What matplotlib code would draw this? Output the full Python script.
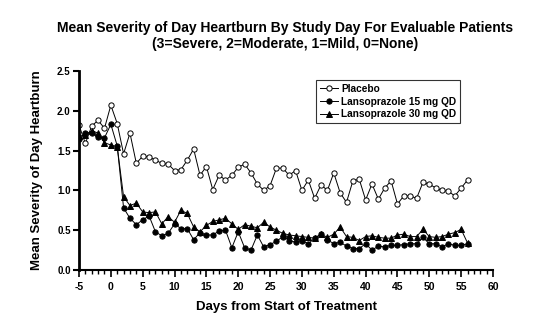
#!/usr/bin/env python3
"""
Mean severity of day heartburn by study day, three treatment arms.
Writes out.png (541x332).
"""

import matplotlib
matplotlib.use("Agg")
import matplotlib.pyplot as plt
from matplotlib.ticker import MultipleLocator, FormatStrFormatter

plt.rcParams["font.family"] = ["Liberation Sans", "DejaVu Sans"]
plt.rcParams["font.weight"] = "bold"
plt.rcParams["axes.unicode_minus"] = False

days = list(range(-5, 57))

placebo = [
    1.82, 1.59, 1.81, 1.88, 1.78, 2.07, 1.84, 1.46, 1.72, 1.34,
    1.43, 1.42, 1.38, 1.34, 1.33, 1.25, 1.26, 1.38, 1.52, 1.19,
    1.30, 1.01, 1.19, 1.13, 1.19, 1.29, 1.33, 1.22, 1.08, 1.00,
    1.06, 1.28, 1.28, 1.19, 1.25, 1.00, 1.13, 0.90, 1.07, 1.00,
    1.22, 0.97, 0.85, 1.12, 1.14, 0.88, 1.08, 0.89, 1.03, 1.12,
    0.83, 0.93, 0.93, 0.90, 1.10, 1.08, 1.03, 1.00, 0.99, 0.93,
    1.03, 1.13,
]

lanso_15 = [
    1.64, 1.72, 1.72, 1.67, 1.66, 1.83, 1.56, 0.78, 0.65, 0.57,
    0.63, 0.68, 0.48, 0.43, 0.46, 0.58, 0.52, 0.52, 0.38, 0.47,
    0.44, 0.44, 0.49, 0.50, 0.28, 0.48, 0.28, 0.25, 0.44, 0.29,
    0.32, 0.36, 0.42, 0.37, 0.35, 0.37, 0.33, 0.40, 0.45, 0.38,
    0.33, 0.35, 0.30, 0.27, 0.27, 0.33, 0.25, 0.30, 0.29, 0.31,
    0.31, 0.32, 0.33, 0.33, 0.41, 0.33, 0.33, 0.29, 0.33, 0.31,
    0.31, 0.33,
]

lanso_30 = [
    1.68, 1.70, 1.75, 1.72, 1.60, 1.57, 1.55, 0.92, 0.81, 0.84,
    0.73, 0.72, 0.73, 0.58, 0.67, 0.60, 0.75, 0.71, 0.54, 0.48,
    0.56, 0.61, 0.63, 0.65, 0.58, 0.51, 0.57, 0.55, 0.53, 0.60,
    0.54, 0.50, 0.46, 0.44, 0.43, 0.42, 0.41, 0.40, 0.45, 0.41,
    0.45, 0.54, 0.42, 0.41, 0.37, 0.42, 0.43, 0.41, 0.40, 0.40,
    0.44, 0.45, 0.42, 0.42, 0.51, 0.42, 0.41, 0.42, 0.45, 0.47,
    0.51, 0.34,
]

labels = ["Placebo", "Lansoprazole 15 mg QD", "Lansoprazole 30 mg QD"]

W, H = 541, 332
fig = plt.figure(figsize=(W / 100, H / 100), dpi=100)
ax = fig.add_axes([79 / W, 1 - 270 / H, 414 / W, 199 / H])

line_kw = dict(color="black", linewidth=0.7, markersize=3.8, markeredgewidth=0.7)
ax.plot(days, placebo, marker="o", markerfacecolor="white",
        markeredgecolor="black", label=labels[0], **line_kw)
ax.plot(days, lanso_15, marker="o", markerfacecolor="black",
        markeredgecolor="black", label=labels[1], **line_kw)
ax.plot(days, lanso_30, marker="^", markerfacecolor="black",
        markeredgecolor="black", label=labels[2], **line_kw)

ax.set_xlim(-5, 60)
ax.set_ylim(0, 2.5)
ax.xaxis.set_major_locator(MultipleLocator(5))
ax.xaxis.set_minor_locator(MultipleLocator(1))
ax.yaxis.set_major_locator(MultipleLocator(0.5))
ax.yaxis.set_major_formatter(FormatStrFormatter("%.1f"))

ax.spines["top"].set_visible(False)
ax.spines["right"].set_visible(False)
ax.spines["left"].set_linewidth(2.0)
ax.spines["bottom"].set_linewidth(1.5)
ax.tick_params(axis="x", which="major", direction="out", length=5, width=1.2,
               labelsize=7.5, pad=4)
ax.tick_params(axis="x", which="minor", direction="out", length=3, width=1.0)
ax.tick_params(axis="y", which="major", direction="out", length=4, width=1.5,
               labelsize=7, pad=2)

ax.set_xlabel("Days from Start of Treatment", fontsize=9.5, fontweight="bold",
              labelpad=6)
ax.set_ylabel("Mean Severity of Day Heartburn", fontsize=9.5, fontweight="bold",
              labelpad=10)

fig.text(0.527, 1 - 28 / H, "Mean Severity of Day Heartburn By Study Day For Evaluable Patients",
         ha="center", va="center", fontsize=10, fontweight="bold")
fig.text(0.527, 1 - 44 / H, "(3=Severe, 2=Moderate, 1=Mild, 0=None)",
         ha="center", va="center", fontsize=10, fontweight="bold")

leg = ax.legend(loc="upper left", bbox_to_anchor=(0.572, 0.955), fontsize=7.3,
                frameon=True, fancybox=False, edgecolor="black",
                handlelength=1.8, handletextpad=0.3, borderpad=0.4,
                labelspacing=0.25, borderaxespad=0)
leg.get_frame().set_linewidth(0.8)

fig.savefig("out.png", dpi=100)
